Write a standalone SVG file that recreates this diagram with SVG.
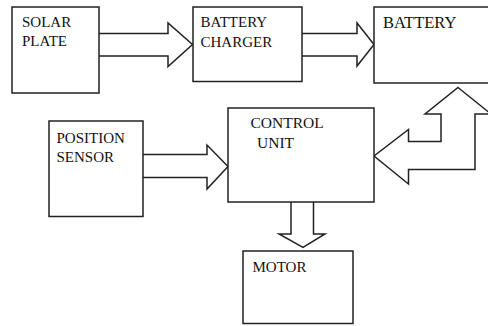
<svg xmlns="http://www.w3.org/2000/svg" width="488" height="326" viewBox="0 0 488 326">
<style>
.box{fill:#fff;stroke:#222;stroke-width:1.5}
.arr{fill:#fff;stroke:#222;stroke-width:1.5;stroke-linejoin:miter}
text{font-family:"Liberation Serif","Times New Roman",serif;font-size:15px;fill:#111}
</style>
<rect width="488" height="326" fill="#fff"/>
<g id="connectors">
<path class="arr" d="M99,33.5 H168 V23 L192.5,44.5 L168,66.5 V56 H99"/>
<path class="arr" d="M302,33.5 H357 V23 L374,44.5 L357,66 V56 H302"/>
<path class="arr" d="M143,154.5 H207 V145 L228,166.5 L207,189 V177.5 H143"/>
<path class="arr" d="M291,202 V234 H279 L303,247.5 L325,234 H313.5 V202"/>
<path class="arr" d="M458,87.5 L491,114 H475 V169.5 H408.5 V184 L374,156 L408.5,129.5 V141.5 H441 V114 H425 Z"/>
</g>
<g id="solar-plate">
<rect class="box" x="12" y="7" width="87" height="86"/>
<text x="22" y="27">SOLAR</text>
<text x="22" y="46">PLATE</text>
</g>
<g id="battery-charger">
<rect class="box" x="193" y="7" width="109" height="74.5"/>
<text x="200.5" y="27">BATTERY</text>
<text x="200.5" y="47">CHARGER</text>
</g>
<g id="battery">
<rect class="box" x="374" y="7" width="130" height="76"/>
<text x="383" y="28" style="font-size:16.5px">BATTERY</text>
</g>
<g id="position-sensor">
<rect class="box" x="49" y="121" width="94" height="95.5"/>
<text x="56.5" y="143">POSITION</text>
<text x="56.5" y="162">SENSOR</text>
</g>
<g id="control-unit">
<rect class="box" x="228" y="108" width="146" height="94"/>
<text x="250.5" y="128" style="font-size:15.5px">CONTROL</text>
<text x="257" y="148" style="font-size:15.5px">UNIT</text>
</g>
<g id="motor">
<rect class="box" x="243" y="251" width="110" height="72.5"/>
<text x="252.5" y="272">MOTOR</text>
</g>
</svg>
